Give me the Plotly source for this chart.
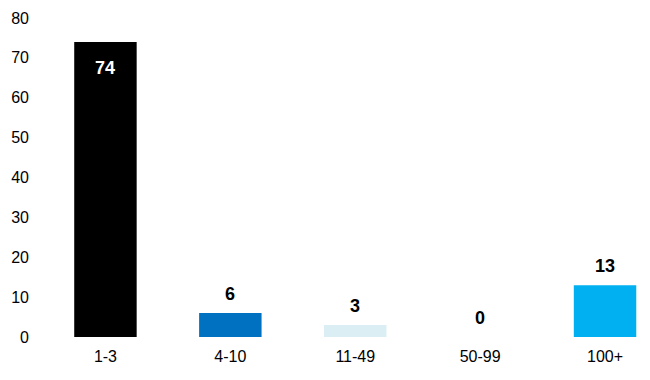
import plotly.graph_objects as go

categories = ["1-3", "4-10", "11-49", "50-99", "100+"]
values = [74, 6, 3, 0, 13]
colors = ["#000000", "#0070C0", "#DAEEF3", "#BDD7EE", "#00B0F0"]
y_ticks = [0, 10, 20, 30, 40, 50, 60, 70, 80]

FONT = "Liberation Sans"

fig = go.Figure(go.Bar(
    x=list(range(len(categories))),
    y=values,
    marker=dict(color=colors, line=dict(width=0)),
    width=0.5,
    hoverinfo="skip",
))

annotations = []
for i, v in enumerate(values):
    if i == 0:
        annotations.append(dict(x=i, y=v, text=f"<b>{v}</b>", showarrow=False,
                                yanchor="middle", yshift=-26,
                                font=dict(family=FONT, size=18, color="white")))
    else:
        annotations.append(dict(x=i, y=v, text=f"<b>{v}</b>", showarrow=False,
                                yanchor="middle", yshift=19,
                                font=dict(family=FONT, size=18, color="black")))

fig.update_layout(
    width=650, height=380,
    margin=dict(l=43, r=0, t=18, b=43),
    paper_bgcolor="white", plot_bgcolor="white",
    showlegend=False,
    annotations=annotations,
    xaxis=dict(range=[-0.5, 4.36], tickmode="array",
               tickvals=list(range(len(categories))), ticktext=categories,
               showgrid=False, zeroline=False, showline=False, ticks="",
               ticklabelstandoff=8,
               tickfont=dict(family=FONT, size=16, color="black")),
    yaxis=dict(range=[0, 80], tickvals=y_ticks, showgrid=False, zeroline=False,
               showline=False, ticks="", ticklabelstandoff=13,
               tickfont=dict(family=FONT, size=16, color="black")),
)

fig.write_html("out.html")
